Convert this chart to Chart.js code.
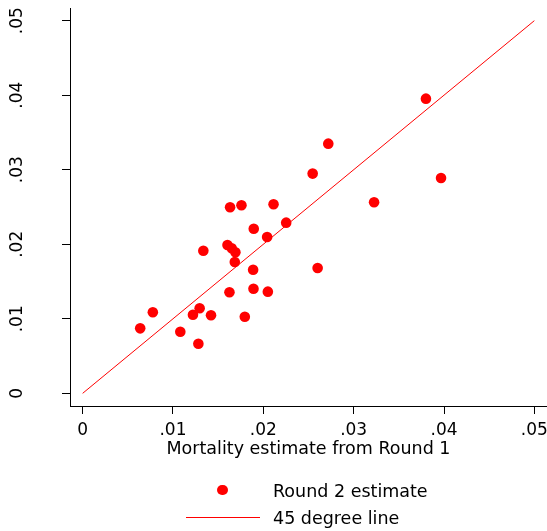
<!DOCTYPE html>
<html>
<head>
<meta charset="utf-8">
<title>Mortality estimates: Round 1 vs Round 2</title>
<script src="https://cdn.jsdelivr.net/npm/chart.js@4.4.1/dist/chart.umd.min.js"></script>
<style>
    body { margin: 0; background: #fff; }
    #wrap { position: relative; width: 547px; height: 531px; font-family: "DejaVu Sans", sans-serif; }
    #wrap canvas { position: absolute; left: 0; top: 0; }
    .leg-text { position: absolute; left: 273px; font-size: 17.5px; line-height: 20px; color: #000; white-space: nowrap; }
    .leg-dot { position: absolute; left: 217.4px; top: 484.7px; width: 10.6px; height: 10.6px; border-radius: 50%; background: #ff0000; }
    .leg-line { position: absolute; left: 185.7px; top: 517px; width: 74.3px; height: 1px; background: #ff0000; }
</style>
</head>
<body>
<div id="wrap">
    <canvas id="scatterChart" width="547" height="531"></canvas>
    <div class="leg-dot"></div>
    <div class="leg-text" style="top:480.6px">Round 2 estimate</div>
    <div class="leg-line"></div>
    <div class="leg-text" style="top:508.2px">45 degree line</div>
</div>
<script>
// ═══════════════ DATA ═══════════════

// Mortality estimate from Round 1 (x) and Round 2 (y), one entry per point
const roundOne = [0.00637, 0.00777, 0.01081, 0.01221, 0.01295, 0.01281, 0.01421, 0.01336,
    0.01625, 0.01795, 0.01603, 0.01650, 0.01691, 0.01684, 0.01632, 0.01758, 0.01887,
    0.01894, 0.01891, 0.02050, 0.02042, 0.02113, 0.02253, 0.02546, 0.02601, 0.02719,
    0.03226, 0.03800, 0.03967];
const roundTwo = [0.00872, 0.01087, 0.00827, 0.01055, 0.01141, 0.00666, 0.01047, 0.01914,
    0.01356, 0.01028, 0.01991, 0.01946, 0.01893, 0.01762, 0.02497, 0.02523, 0.01659,
    0.02209, 0.01404, 0.01364, 0.02098, 0.02537, 0.02290, 0.02948, 0.01682, 0.03350,
    0.02564, 0.03954, 0.02890];

// 45 degree reference line end points
const lineX = [0, 0.05];
const lineY = [0, 0.05];

const tickValues = [0, 0.01, 0.02, 0.03, 0.04, 0.05];
const tickLabels = ['0', '.01', '.02', '.03', '.04', '.05'];

// ═══════════════ CHART ═══════════════

const RED = '#ff0000';

function fixedTicks(scale) {
    scale.ticks = tickValues.map(v => ({ value: v }));
}

// keep the layout from pushing the plot area around for label overhang
function clearPadding(scale) {
    scale.paddingTop = 0;
    scale.paddingBottom = 0;
    scale.paddingLeft = 0;
    scale.paddingRight = 0;
}

const axisBase = {
    type: 'linear',
    afterBuildTicks: fixedTicks,
    border: { display: true, color: '#000', width: 1 },
    grid: { display: true, drawOnChartArea: false, drawTicks: true, tickLength: 8, color: '#000' }
};

new Chart(document.getElementById('scatterChart').getContext('2d'), {
    type: 'scatter',
    data: {
        datasets: [
            {
                label: 'Round 2 estimate',
                data: roundOne.map((x, i) => ({ x, y: roundTwo[i] })),
                backgroundColor: RED,
                borderWidth: 0,
                pointRadius: 5.3,
                pointHoverRadius: 5.3
            },
            {
                type: 'line',
                label: '45 degree line',
                data: lineX.map((x, i) => ({ x, y: lineY[i] })),
                borderColor: RED,
                borderWidth: 1,
                pointRadius: 0,
                fill: false
            }
        ]
    },
    options: {
        responsive: false,
        animation: false,
        layout: { autoPadding: false, padding: { top: 8, right: 0, bottom: 70, left: 0 } },
        plugins: {
            legend: { display: false },
            tooltip: { enabled: false }
        },
        scales: {
            x: {
                ...axisBase,
                position: 'bottom',
                min: -0.0014,
                max: 0.0514,
                ticks: {
                    color: '#000',
                    padding: 6,
                    maxRotation: 0,
                    font: { family: 'DejaVu Sans', size: 17 },
                    callback: (v, i) => tickLabels[i]
                },
                title: {
                    display: true,
                    text: 'Mortality estimate from Round 1',
                    color: '#000',
                    font: { family: 'DejaVu Sans', size: 17.5 },
                    padding: { top: 0, bottom: 1.5 }
                },
                afterFit: scale => { scale.height = 55; clearPadding(scale); }
            },
            y: {
                ...axisBase,
                position: 'left',
                min: -0.0017,
                max: 0.0517,
                ticks: {
                    color: '#000',
                    padding: 31,
                    minRotation: 90,
                    maxRotation: 90,
                    crossAlign: 'center',
                    font: { family: 'DejaVu Sans', size: 17 },
                    callback: (v, i) => tickLabels[i]
                },
                afterFit: scale => { scale.width = 70; clearPadding(scale); }
            }
        }
    }
});
</script>
</body>
</html>
